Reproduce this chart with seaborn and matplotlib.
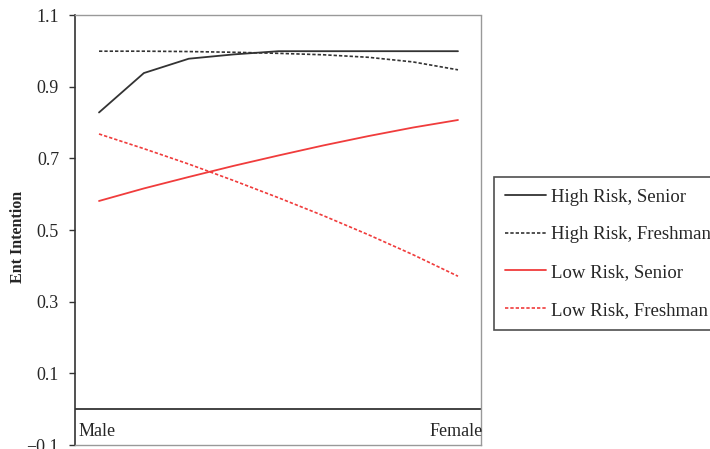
import numpy as np
import pandas as pd
import matplotlib
matplotlib.use("Agg")
import matplotlib.pyplot as plt
import seaborn as sns

# values, 9 points from Male to Female
steps = [0, 1, 2, 3, 4, 5, 6, 7, 8]
high_senior = [0.828, 0.938, 0.978, 0.990, 0.999, 0.999, 0.999, 0.999, 0.999]
high_freshman = [0.999, 0.999, 0.998, 0.996, 0.993, 0.989, 0.982, 0.969, 0.947]
low_senior = [0.581, 0.616, 0.648, 0.679, 0.708, 0.736, 0.762, 0.786, 0.807]
low_freshman = [0.768, 0.727, 0.684, 0.638, 0.590, 0.540, 0.487, 0.431, 0.371]
names = ["High Risk, Senior", "High Risk, Freshman", "Low Risk, Senior", "Low Risk, Freshman"]
yticks = [-0.1, 0.1, 0.3, 0.5, 0.7, 0.9, 1.1]

sns.set_style("white")
plt.rcParams["font.family"] = ["Liberation Serif", "DejaVu Serif"]

df = pd.DataFrame({
    "x": steps * 4,
    "y": high_senior + high_freshman + low_senior + low_freshman,
    "series": np.repeat(names, len(steps)),
})

colors = {names[0]: "#333333", names[1]: "#333333", names[2]: "#f03c3c", names[3]: "#f03c3c"}
dashed = {names[0]: False, names[1]: True, names[2]: False, names[3]: True}

fig = plt.figure(figsize=(7.10, 4.49), dpi=100)
ax = fig.add_axes([75 / 710, 4 / 449, 406 / 710, 430 / 449])

for n in names:
    sub = df[df["series"] == n]
    sns.lineplot(data=sub, x="x", y="y", ax=ax, color=colors[n], label=n,
                 linewidth=1.3 if not dashed[n] else 1.2, legend=False)
    if dashed[n]:
        ax.lines[-1].set_dashes((2, 1.2))

ax.axhline(0, color="#222222", linewidth=1.2)
ax.set_xlim(-0.535, 8.513)
ax.set_ylim(-0.1, 1.1)
ax.set_yticks(yticks)
ax.set_yticklabels([("\u2212" if t < 0 else "") + f"{abs(t):.1f}" for t in yticks], fontsize=13)
ax.set_xticks([])
ax.set_xlabel("")
ax.set_ylabel("Ent Intention", fontsize=11.5, fontweight="bold")
ax.yaxis.set_label_coords(-0.12, 0.484)
ax.tick_params(axis="y", direction="out", length=4.5, width=1, color="#333333", left=True, pad=7)

ax.spines["left"].set_color("#333333")
ax.spines["left"].set_linewidth(1.2)
for s in ["top", "right", "bottom"]:
    ax.spines[s].set_color("#999999")
    ax.spines[s].set_linestyle((0, (1, 1)))
    ax.spines[s].set_linewidth(1)

ax.text(0.008, -0.062, "Male", transform=ax.get_yaxis_transform(), fontsize=13,
        ha="left", va="center")
ax.text(1.005, -0.062, "Female", transform=ax.get_yaxis_transform(), fontsize=13,
        ha="right", va="center")

handles, labels = ax.get_legend_handles_labels()
leg = fig.legend(handles, labels, loc="lower left",
                 bbox_to_anchor=(494 / 710, 119 / 449), fontsize=13.5,
                 frameon=True, fancybox=False, edgecolor="#222222",
                 handlelength=2.15, handletextpad=0.3, labelspacing=1.1,
                 borderpad=0.6, borderaxespad=0)
leg.get_frame().set_linewidth(1.2)

fig.savefig("out.png", dpi=100)
